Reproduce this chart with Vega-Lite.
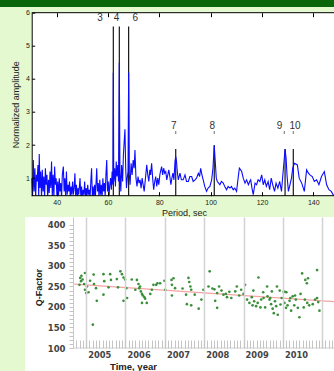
{
"$schema":"https://vega.github.io/schema/vega-lite/v6.json",
"background":"#e4f9cf",
"padding":0,
"spacing":5.7,
"bounds":"flush",
"config":{"view":{"stroke":null},"font":"Liberation Sans","axis":{"zindex":1}},
"datasets":{
"spec":[
{"p":30.3,"a":1.0},{"p":30.6,"a":0.4},{"p":30.9,"a":1.55},{"p":31.2,"a":0.6},{"p":31.5,"a":1.3},{"p":31.8,"a":0.4},{"p":32.1,"a":1.1},{"p":32.4,"a":0.9},{"p":32.7,"a":1.4},{"p":33.0,"a":0.45},{"p":33.2,"a":1.73},{"p":33.5,"a":0.7},{"p":33.8,"a":1.2},{"p":34.1,"a":0.4},{"p":34.4,"a":1.25},{"p":34.7,"a":0.6},{"p":35.0,"a":1.05},{"p":35.3,"a":0.4},{"p":35.6,"a":1.3},{"p":35.9,"a":0.8},{"p":36.2,"a":1.1},{"p":36.5,"a":0.4},{"p":36.8,"a":0.95},{"p":37.1,"a":0.55},{"p":37.4,"a":1.2},{"p":37.7,"a":0.7},{"p":38.0,"a":1.5},{"p":38.3,"a":0.45},{"p":38.6,"a":1.1},{"p":38.9,"a":0.4},{"p":39.2,"a":1.35},{"p":39.5,"a":0.8},{"p":39.8,"a":1.0},{"p":40.1,"a":0.45},{"p":40.4,"a":0.9},{"p":40.7,"a":0.4},{"p":41.0,"a":1.0},{"p":41.3,"a":0.6},{"p":41.6,"a":0.85},{"p":41.9,"a":0.4},{"p":42.2,"a":1.1},{"p":42.6,"a":1.35},{"p":42.9,"a":0.6},{"p":43.2,"a":1.0},{"p":43.5,"a":0.4},{"p":43.8,"a":1.2},{"p":44.1,"a":0.5},{"p":44.4,"a":0.8},{"p":44.7,"a":0.6},{"p":45.0,"a":0.9},{"p":45.3,"a":0.4},{"p":45.6,"a":0.75},{"p":45.9,"a":0.5},{"p":46.2,"a":0.9},{"p":46.5,"a":0.5},{"p":46.8,"a":0.7},{"p":47.1,"a":1.15},{"p":47.4,"a":0.45},{"p":47.7,"a":0.8},{"p":48.0,"a":0.4},{"p":48.3,"a":0.7},{"p":48.6,"a":0.5},{"p":49.1,"a":1.0},{"p":49.4,"a":0.45},{"p":49.7,"a":0.75},{"p":50.0,"a":0.4},{"p":50.3,"a":0.65},{"p":50.6,"a":0.5},{"p":50.9,"a":0.9},{"p":51.2,"a":0.4},{"p":51.5,"a":0.7},{"p":51.8,"a":0.45},{"p":52.1,"a":0.8},{"p":52.4,"a":0.5},{"p":52.7,"a":0.65},{"p":53.0,"a":0.4},{"p":53.3,"a":0.9},{"p":53.6,"a":1.3},{"p":53.9,"a":0.45},{"p":54.2,"a":0.75},{"p":54.5,"a":0.4},{"p":54.8,"a":0.8},{"p":55.1,"a":0.45},{"p":55.6,"a":1.3},{"p":55.9,"a":0.6},{"p":56.2,"a":0.85},{"p":56.5,"a":0.4},{"p":56.8,"a":0.95},{"p":57.1,"a":0.5},{"p":57.4,"a":0.8},{"p":57.7,"a":0.4},{"p":58.0,"a":1.0},{"p":58.3,"a":0.6},{"p":58.6,"a":0.85},{"p":58.9,"a":0.45},{"p":59.2,"a":1.1},{"p":59.5,"a":1.55},{"p":59.8,"a":0.6},{"p":60.1,"a":0.9},{"p":60.4,"a":0.45},{"p":60.7,"a":0.8},{"p":61.0,"a":1.0},{"p":61.3,"a":0.65},
{"p":61.6,"a":1.2},{"p":61.9,"a":0.8},{"p":62.06,"a":4.19},{"p":62.25,"a":0.9},{"p":62.6,"a":1.3},{"p":62.9,"a":0.75},{"p":63.2,"a":1.5},{"p":63.5,"a":1.05},{"p":63.8,"a":1.4},{"p":64.1,"a":0.9},{"p":64.4,"a":4.49},{"p":64.65,"a":1.2},{"p":65.0,"a":0.6},{"p":65.3,"a":1.4},{"p":65.7,"a":0.9},{"p":66.0,"a":1.7},{"p":66.3,"a":2.1},{"p":66.6,"a":2.48},{"p":66.9,"a":1.3},{"p":67.2,"a":0.7},{"p":67.5,"a":1.0},{"p":67.8,"a":1.2},{"p":68.05,"a":4.19},{"p":68.3,"a":1.1},{"p":68.6,"a":0.8},{"p":69.0,"a":1.45},{"p":69.4,"a":1.1},{"p":69.8,"a":1.55},{"p":70.2,"a":1.3},{"p":70.5,"a":1.85},{"p":70.9,"a":1.0},{"p":71.3,"a":0.75},{"p":71.7,"a":1.05},{"p":72.1,"a":0.85},{"p":72.5,"a":0.95},{"p":72.9,"a":0.7},{"p":73.3,"a":1.0},{"p":73.7,"a":0.8},{"p":74.1,"a":0.6},{"p":74.6,"a":1.0},{"p":75.1,"a":1.4},{"p":75.5,"a":1.1},{"p":75.9,"a":0.9},{"p":76.3,"a":1.25},{"p":76.6,"a":1.1},{"p":77.0,"a":1.45},{"p":77.4,"a":1.0},{"p":77.8,"a":0.65},{"p":78.2,"a":0.9},{"p":78.6,"a":1.05},{"p":79.0,"a":0.75},{"p":79.4,"a":1.0},{"p":79.8,"a":0.8},{"p":80.2,"a":1.1},{"p":80.6,"a":1.25},{"p":80.9,"a":1.35},{"p":81.3,"a":1.1},{"p":81.7,"a":1.3},{"p":82.1,"a":1.15},{"p":82.5,"a":1.2},{"p":82.9,"a":0.95},{"p":83.3,"a":1.1},{"p":83.7,"a":1.25},{"p":84.1,"a":1.05},{"p":84.5,"a":0.8},{"p":84.9,"a":1.0},{"p":85.3,"a":1.15},{"p":85.7,"a":0.95},{"p":86.1,"a":1.5},{"p":86.4,"a":1.65},{"p":86.7,"a":1.5},{"p":87.0,"a":1.2},{"p":87.4,"a":0.95},{"p":88.05,"a":1.15},{"p":88.6,"a":0.95},{"p":89.3,"a":0.95},{"p":90.0,"a":1.1},{"p":90.6,"a":0.9},{"p":91.3,"a":0.9},{"p":91.9,"a":1.05},{"p":92.6,"a":1.05},{"p":93.2,"a":0.9},{"p":93.9,"a":0.95},{"p":94.5,"a":1.0},{"p":95.2,"a":1.15},{"p":95.7,"a":1.05},{"p":96.1,"a":1.3},{"p":96.6,"a":1.1},{"p":97.1,"a":0.95},{"p":97.7,"a":0.75},{"p":98.4,"a":0.6},{"p":99.0,"a":0.7},{"p":99.7,"a":0.75},{"p":100.4,"a":0.95},{"p":100.9,"a":1.3},{"p":101.4,"a":1.98},{"p":101.8,"a":1.5},{"p":102.2,"a":1.0},{"p":102.6,"a":0.9},{"p":103.1,"a":0.85},{"p":103.6,"a":0.8},{"p":104.2,"a":0.9},{"p":104.9,"a":0.85},{"p":105.5,"a":0.75},{"p":106.2,"a":0.65},{"p":106.8,"a":0.75},{"p":107.5,"a":0.7},{"p":108.1,"a":0.75},{"p":108.8,"a":0.65},{"p":109.4,"a":0.7},{"p":110.1,"a":0.6},{"p":110.7,"a":1.0},{"p":111.2,"a":1.3},{"p":111.7,"a":1.25},{"p":112.1,"a":1.2},{"p":112.7,"a":1.0},{"p":113.4,"a":0.85},{"p":114.0,"a":0.95},{"p":114.7,"a":0.8},{"p":115.2,"a":0.9},{"p":115.6,"a":0.95},{"p":116.1,"a":0.7},{"p":116.6,"a":0.5},{"p":117.3,"a":0.85},{"p":117.9,"a":0.8},{"p":118.5,"a":0.95},{"p":119.2,"a":0.9},{"p":119.9,"a":1.1},{"p":120.5,"a":0.8},{"p":121.1,"a":0.95},{"p":121.7,"a":0.75},{"p":122.4,"a":0.9},{"p":123.0,"a":0.65},{"p":123.6,"a":1.0},{"p":124.2,"a":0.8},{"p":124.9,"a":0.6},{"p":125.5,"a":0.85},{"p":126.2,"a":0.7},{"p":126.9,"a":0.9},{"p":127.6,"a":0.6},{"p":128.2,"a":1.15},{"p":128.7,"a":1.6},{"p":129.0,"a":1.88},{"p":129.4,"a":1.6},{"p":129.8,"a":1.05},{"p":130.3,"a":0.6},{"p":130.9,"a":0.8},{"p":131.5,"a":1.0},{"p":132.0,"a":1.3},{"p":132.6,"a":1.45},{"p":133.2,"a":1.43},{"p":133.8,"a":1.4},{"p":134.5,"a":1.0},{"p":135.5,"a":0.85},{"p":136.5,"a":0.6},{"p":137.4,"a":1.25},{"p":138.1,"a":1.15},{"p":138.7,"a":1.1},{"p":139.6,"a":1.05},{"p":140.4,"a":0.9},{"p":141.3,"a":0.95},{"p":142.2,"a":0.8},{"p":143.2,"a":1.05},{"p":144.3,"a":1.2},{"p":145.2,"a":0.8},{"p":146.1,"a":0.65},{"p":147.0,"a":0.6},{"p":148.1,"a":0.45}
],
"peaks":[{"p":62.06,"a":5.58},{"p":64.4,"a":5.58},{"p":68.05,"a":5.58},{"p":86.4,"a":1.88},{"p":101.4,"a":2.0},{"p":129.0,"a":1.88},{"p":132.2,"a":1.88}],
"labels":[{"p":56.9,"a":5.83,"t":"3"},{"p":63.3,"a":5.83,"t":"4"},{"p":70.6,"a":5.83,"t":"6"},{"p":85.6,"a":2.58,"t":"7"},{"p":100.6,"a":2.58,"t":"8"},{"p":126.8,"a":2.58,"t":"9"},{"p":132.9,"a":2.58,"t":"10"}],
"marks":[{"p":86.4,"a":2.38},{"p":101.4,"a":2.38},{"p":128.7,"a":2.38},{"p":132.2,"a":2.38}],
"q":[
{"yr":2004.85,"q":271},{"yr":2004.88,"q":276},{"yr":2004.97,"q":283},{"yr":2004.87,"q":263},{"yr":2004.91,"q":267},{"yr":2004.83,"q":254},{"yr":2004.95,"q":256},{"yr":2005.02,"q":250},{"yr":2004.97,"q":242},{"yr":2005.0,"q":234},{"yr":2005.06,"q":236},{"yr":2005.1,"q":264},{"yr":2005.19,"q":279},{"yr":2005.2,"q":256},{"yr":2005.25,"q":246},{"yr":2005.27,"q":215},{"yr":2005.17,"q":157},{"yr":2005.44,"q":280},{"yr":2005.46,"q":263},{"yr":2005.44,"q":230},{"yr":2005.57,"q":248},{"yr":2005.61,"q":280},{"yr":2005.63,"q":266},{"yr":2005.78,"q":268},{"yr":2005.81,"q":248},{"yr":2005.87,"q":287},{"yr":2005.91,"q":280},{"yr":2005.95,"q":272},{"yr":2005.99,"q":267},{"yr":2005.95,"q":215},{"yr":2006.02,"q":246},{"yr":2006.04,"q":222},{"yr":2006.16,"q":267},{"yr":2006.29,"q":266},{"yr":2006.33,"q":256},{"yr":2006.25,"q":242},{"yr":2006.35,"q":246},{"yr":2006.37,"q":250},{"yr":2006.39,"q":238},{"yr":2006.42,"q":232},{"yr":2006.44,"q":228},{"yr":2006.48,"q":224},{"yr":2006.5,"q":220},{"yr":2006.42,"q":210},{"yr":2006.54,"q":210},{"yr":2006.63,"q":232},{"yr":2006.67,"q":242},{"yr":2006.71,"q":254},{"yr":2006.78,"q":254},{"yr":2006.81,"q":258},
{"yr":2006.88,"q":258},{"yr":2006.99,"q":264},{"yr":2007.01,"q":242},{"yr":2007.17,"q":266},{"yr":2007.22,"q":270},{"yr":2007.18,"q":254},{"yr":2007.18,"q":228},{"yr":2007.26,"q":246},{"yr":2007.45,"q":245},{"yr":2007.54,"q":230},{"yr":2007.56,"q":207},{"yr":2007.6,"q":271},{"yr":2007.62,"q":261},{"yr":2007.65,"q":250},{"yr":2007.67,"q":242},{"yr":2007.67,"q":204},{"yr":2007.76,"q":230},{"yr":2007.86,"q":196},{"yr":2007.93,"q":218},{"yr":2007.98,"q":242},{"yr":2008.11,"q":250},{"yr":2008.14,"q":287},{"yr":2008.21,"q":245},{"yr":2008.26,"q":243},{"yr":2008.28,"q":215},{"yr":2008.33,"q":234},{"yr":2008.33,"q":198},{"yr":2008.38,"q":250},{"yr":2008.44,"q":240},{"yr":2008.49,"q":230},{"yr":2008.55,"q":232},{"yr":2008.58,"q":224},{"yr":2008.64,"q":237},{"yr":2008.69,"q":222},{"yr":2008.79,"q":238},{"yr":2008.83,"q":250},{"yr":2008.89,"q":228},{"yr":2008.94,"q":242},{"yr":2009.0,"q":232},
{"yr":2009.04,"q":254},{"yr":2009.09,"q":218},{"yr":2009.15,"q":210},{"yr":2009.21,"q":224},{"yr":2009.23,"q":204},{"yr":2009.27,"q":214},{"yr":2009.32,"q":202},{"yr":2009.36,"q":210},{"yr":2009.38,"q":272},{"yr":2009.43,"q":199},{"yr":2009.45,"q":218},{"yr":2009.51,"q":222},{"yr":2009.55,"q":199},{"yr":2009.6,"q":250},{"yr":2009.61,"q":226},{"yr":2009.66,"q":218},{"yr":2009.68,"q":222},{"yr":2009.7,"q":207},{"yr":2009.74,"q":196},{"yr":2009.77,"q":185},{"yr":2009.8,"q":214},{"yr":2009.83,"q":202},{"yr":2009.85,"q":250},{"yr":2009.87,"q":181},{"yr":2009.94,"q":206},{"yr":2009.97,"q":222},{"yr":2010.02,"q":237},{"yr":2010.05,"q":237},{"yr":2010.09,"q":236},{"yr":2010.04,"q":210},{"yr":2010.08,"q":198},{"yr":2010.12,"q":204},{"yr":2010.17,"q":215},{"yr":2010.19,"q":222},{"yr":2010.21,"q":191},{"yr":2010.25,"q":226},{"yr":2010.29,"q":204},{"yr":2010.31,"q":228},{"yr":2010.33,"q":218},{"yr":2010.38,"q":198},{"yr":2010.42,"q":175},{"yr":2010.45,"q":232},{"yr":2010.49,"q":282},{"yr":2010.57,"q":266},{"yr":2010.61,"q":258},{"yr":2010.64,"q":270},{"yr":2010.87,"q":290},{"yr":2010.53,"q":199},{"yr":2010.56,"q":218},{"yr":2010.62,"q":210},{"yr":2010.67,"q":204},{"yr":2010.76,"q":207},{"yr":2010.82,"q":218},{"yr":2010.87,"q":222},{"yr":2010.93,"q":191},{"yr":2010.9,"q":212},{"yr":2009.25,"q":240},{"yr":2009.5,"q":236},{"yr":2009.72,"q":238},{"yr":2009.92,"q":240}
],
"trend":[{"yr":2004.7,"q":256},{"yr":2011.3,"q":213}]
},
"vconcat":[
{"width":334,"height":7,"view":{"fill":"#0a660a","stroke":null},"data":{"values":[{}]},"mark":{"type":"point","size":0,"opacity":0}},
{"spacing":21.3,"bounds":"flush","vconcat":[
{"width":334,"height":183,
"layer":[
{"data":{"values":[{}]},"mark":{"type":"rect","color":"white"},
"encoding":{"x":{"datum":30.26,"type":"quantitative","scale":{"domain":[17.91,148.07],"nice":false,"zero":false},"axis":null},"x2":{"datum":148.07},"y":{"datum":0.47,"type":"quantitative","scale":{"domain":[0.47,6],"nice":false,"zero":false},"axis":null},"y2":{"datum":6}}},
{"data":{"name":"peaks"},"mark":{"type":"rule","color":"black","strokeWidth":1.1},
"encoding":{"x":{"field":"p","type":"quantitative","axis":{"orient":"top","zindex":1,"values":[40,60,80,100,120,140],"domain":false,"labels":false,"tickSize":-4,"tickColor":"black","title":null,"grid":false}},"y":{"field":"a","type":"quantitative","axis":null},"y2":{"datum":0.47}}},
{"data":{"name":"spec"},"mark":{"type":"line","color":"#0b0bff","strokeWidth":1.1,"clip":true},
"encoding":{"x":{"field":"p","type":"quantitative","axis":{"orient":"bottom","zindex":1,"values":[40,60,80,100,120,140],"domain":false,"tickSize":-4,"tickColor":"black","labelFontSize":7,"labelColor":"#222","labelPadding":6.8,"title":"Period, sec","titleFontSize":9,"titleFontWeight":"normal","titleColor":"#222","titleX":184,"titleY":16.8,"titleBaseline":"middle","grid":false}},
"y":{"field":"a","type":"quantitative","axis":{"orient":"left","zindex":1,"offset":-31.7,"values":[1,2,3,4,5,6],"domain":true,"domainColor":"black","tickSize":-3,"tickColor":"black","labelFontSize":7,"labelColor":"#222","labelPadding":5.4,"title":"Normalized amplitude","titleFontSize":9,"titleFontWeight":"normal","titleColor":"#222","titleX":-16.4,"titleBaseline":"middle","grid":false}}}},
{"data":{"name":"labels"},"mark":{"type":"text","fontSize":10,"color":"#333"},
"encoding":{"x":{"field":"p","type":"quantitative","axis":null},"y":{"field":"a","type":"quantitative","axis":null},"text":{"field":"t"}}},
{"data":{"name":"marks"},"mark":{"type":"tick","orient":"vertical","size":3,"thickness":1,"color":"#333"},
"encoding":{"x":{"field":"p","type":"quantitative","axis":null},"y":{"field":"a","type":"quantitative","axis":null}}},
{"data":{"values":[{}]},"mark":{"type":"rule","color":"black","strokeWidth":1},
"encoding":{"x":{"datum":30.26,"axis":null},"x2":{"datum":148.07},"y":{"datum":6,"axis":null}}},
{"data":{"values":[{}]},"mark":{"type":"rule","color":"black","strokeWidth":1},
"encoding":{"x":{"datum":30.26,"axis":null},"x2":{"datum":148.07},"y":{"datum":0.47,"axis":null}}}
],
"resolve":{"axis":{"x":"independent","y":"independent"}}
},
{"width":334,"height":131,
"layer":[
{"data":{"values":[{}]},"mark":{"type":"rect","color":"white"},
"encoding":{"x":{"datum":2003.45,"type":"quantitative","scale":{"domain":[2002.81,2011.3],"nice":false,"zero":false},"axis":null},"x2":{"datum":2011.3},"y":{"datum":44.5,"type":"quantitative","scale":{"domain":[100,419.5],"nice":false,"zero":false},"axis":null},"y2":{"datum":419.5}}},
{"data":{"values":[{}]},"mark":{"type":"rule","color":"#d0d0d0","strokeWidth":1},
"encoding":{"x":{"datum":2004.67,"axis":null},"x2":{"datum":2011.3},"y":{"datum":100,"axis":null}}},
{"data":{"name":"trend"},"mark":{"type":"line","color":"#f4a3a3","strokeWidth":1.3},
"encoding":{"x":{"field":"yr","type":"quantitative","axis":{"orient":"bottom","zindex":1,"values":[2005,2006,2007,2008,2009,2010,2011],"grid":true,"gridColor":"#d2d2d2","gridWidth":1.5,"domain":false,"ticks":false,"labels":false,"title":null}},"y":{"field":"q","type":"quantitative","axis":null}}},
{"data":{"name":"q"},"mark":{"type":"circle","size":7,"color":"#3a8f3a","opacity":1},
"encoding":{"x":{"field":"yr","type":"quantitative","axis":{"orient":"bottom","zindex":1,"values":[2004.75,2004.8333,2004.9167,2005,2005.0833,2005.1667,2005.25,2005.3333,2005.4167,2005.5,2005.5833,2005.6667,2005.75,2005.8333,2005.9167,2006,2006.0833,2006.1667,2006.25,2006.3333,2006.4167,2006.5,2006.5833,2006.6667,2006.75,2006.8333,2006.9167,2007,2007.0833,2007.1667,2007.25,2007.3333,2007.4167,2007.5,2007.5833,2007.6667,2007.75,2007.8333,2007.9167,2008,2008.0833,2008.1667,2008.25,2008.3333,2008.4167,2008.5,2008.5833,2008.6667,2008.75,2008.8333,2008.9167,2009,2009.0833,2009.1667,2009.25,2009.3333,2009.4167,2009.5,2009.5833,2009.6667,2009.75,2009.8333,2009.9167,2010,2010.0833,2010.1667,2010.25,2010.3333,2010.4167,2010.5,2010.5833,2010.6667,2010.75,2010.8333,2010.9167,2011,2011.0833,2011.1667,2011.25],
"labelExpr":"abs(datum.value - floor(datum.value) - 0.3333) < 0.01 ? '' + floor(datum.value) : ''","labelOverlap":false,"labelBound":false,"labelFlush":false,
"domain":false,"tickSize":-8,"tickColor":"#c4c4c4","labelFont":"DejaVu Sans","labelFontSize":8.3,"labelFontWeight":"bold","labelColor":"#444","labelPadding":10.5,
"title":"Time, year","titleFont":"Liberation Sans","titleFontSize":9.5,"titleFontWeight":"bold","titleColor":"#222","titleX":133,"titleY":18.5,"titleBaseline":"middle","grid":false}},
"y":{"field":"q","type":"quantitative","axis":{"orient":"left","zindex":1,"offset":-73,"values":[100,110,120,130,140,150,160,170,180,190,200,210,220,230,240,250,260,270,280,290,300,310,320,330,340,350,360,370,380,390,400],"labelExpr":"datum.value % 50 == 0 ? datum.label : ''","labelOverlap":false,"domainColor":"#c8c8c8","tickSize":4,"tickColor":"#c4c4c4","labelFont":"DejaVu Sans","labelFontSize":8.5,"labelFontWeight":"bold","labelColor":"#444","labelPadding":4,
"title":"Q-Factor","titleFont":"Liberation Sans","titleFontSize":9,"titleFontWeight":"bold","titleColor":"#222","titleX":-35,"titleY":70,"titleBaseline":"middle","grid":false}}}}
],
"resolve":{"axis":{"x":"independent","y":"independent"}}
}
]}
]
}
